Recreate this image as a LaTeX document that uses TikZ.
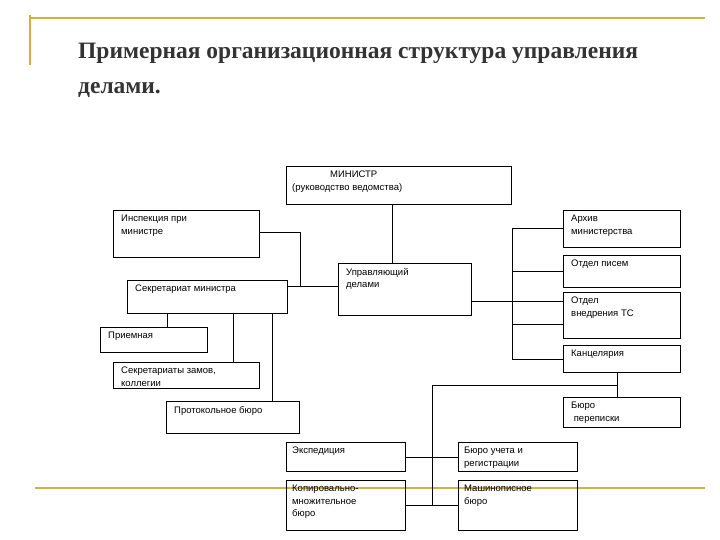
\documentclass[tikz,border=0pt]{standalone}
\usepackage{fontspec}
\setmainfont{Liberation Sans}
\newfontfamily\titlefont{Liberation Serif}
\definecolor{gold}{HTML}{D4B040}
\tikzset{x=1pt,y=-1pt,
 box/.style={draw,line width=0.8pt,anchor=north west,inner sep=0pt},
 txt/.style={anchor=north west,align=left,inner sep=0pt,font=\fontsize{9.5}{12.5}\selectfont},
 ln/.style={line width=0.8pt}}
\newcommand{\bx}[7]{\node[box,minimum width=#4,minimum height=#5] (#1) at (#2,#3) {};
 \node[txt] (#1t) at ($(#1.north west)+(#7,5)$) {#6};}
\usetikzlibrary{calc}
\begin{document}
\begin{tikzpicture}
\useasboundingbox (0,0) rectangle (720,540);
\draw[gold,line width=1.2pt] (30,15) -- (30,65);
\draw[gold,line width=1.2pt] (30,18) -- (705,18);
\draw[gold,line width=2pt] (35,488) -- (705,488);
\node[anchor=north west,align=left,inner sep=0pt,font=\titlefont\bfseries\fontsize{23.5}{35}\selectfont,text=black!80] (title) at (78,43) {Примерная организационная структура управления\\делами.};
\bx{min}{286}{166}{225}{38}{\hspace*{38pt}МИНИСТР\\(руководство ведомства)}{6}
\bx{insp}{113}{210}{146}{47}{Инспекция при\\министре}{8}
\bx{sek}{127}{280}{160}{33}{Секретариат министра}{8}
\bx{upr}{338}{263}{133}{52}{Управляющий\\делами}{8}
\bx{arh}{563}{210}{117}{37}{Архив\\министерства}{8}
\bx{pis}{563}{255}{117}{32}{Отдел писем}{8}
\bx{vne}{563}{292}{117}{46}{Отдел\\внедрения ТС}{8}
\bx{kan}{563}{345}{117}{27}{Канцелярия}{8}
\bx{per}{563}{397}{117}{30}{Бюро\\\ переписки}{8}
\bx{pri}{100}{327}{107}{25}{Приемная}{8}
\bx{zam}{113}{362}{146}{26}{Секретариаты замов,\\коллегии}{8}
\bx{pro}{166}{401}{133}{32}{Протокольное бюро}{8}
\bx{eks}{286}{442}{119}{29}{Экспедиция}{6}
\bx{uch}{458}{442}{119}{29}{Бюро учета и\\регистрации}{6}
\bx{kop}{286}{480}{119}{50}{Копировально-\\множительное\\бюро}{6}
\bx{mas}{458}{480}{119}{50}{Машинописное\\бюро}{6}
\draw[ln] (min.south -| 392,0) -- (392,263);
\coordinate (j1) at (300,286);
\draw[ln] (insp.east |- 0,232) -- (300,232) -- (j1);
\draw[ln] (sek.east |- j1) -- (upr.west |- j1);
\draw[ln] (167,313) -- (pri.north -| 167,0);
\draw[ln] (233,313) -- (zam.north -| 233,0);
\draw[ln] (272,313) -- (pro.north -| 272,0);
\coordinate (r) at (512,301);
\draw[ln] (upr.east |- r) -- (vne.west |- r);
\draw[ln] (512,228) -- (512,359);
\draw[ln] (512,228) -- (arh.west |- 0,228);
\draw[ln] (512,271) -- (pis.west |- 0,271);
\draw[ln] (512,324) -- (vne.west |- 0,324);
\draw[ln] (512,359) -- (kan.west |- 0,359);
\draw[ln] (kan.south -| 617,0) -- (per.north -| 617,0);
\draw[ln] (617,385) -- (432,385) -- (432,505);
\draw[ln] (eks.east |- 0,457) -- (uch.west |- 0,457);
\draw[ln] (kop.east |- 0,505) -- (mas.west |- 0,505);
\end{tikzpicture}
\end{document}
